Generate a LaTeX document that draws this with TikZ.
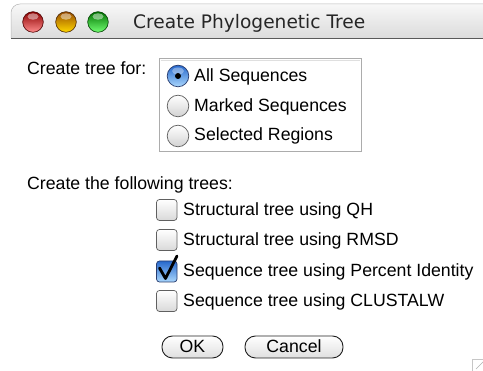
\documentclass[tikz,border=0pt]{standalone}
\usepackage{fontspec}
\setmainfont{Liberation Sans}
\newfontfamily\titlefont{DejaVu Sans}
\definecolor{aquatop}{RGB}{38,104,205}
\definecolor{aquabot}{RGB}{170,215,252}
\definecolor{aquaedge}{RGB}{40,60,110}
\begin{document}
\begin{tikzpicture}[x=1pt,y=-1pt,
  lbl/.style={anchor=base west,inner sep=0pt,font=\fontsize{17.7}{20}\selectfont,text=black},
  btntext/.style={anchor=base,inner sep=0pt,font=\fontsize{17.7}{20}\selectfont,text=black},
  radiooff/.style={top color=white,bottom color=gray!35,draw=gray!75!black,line width=0.7pt},
  radioon/.style={top color=aquatop,bottom color=aquabot,draw=aquaedge,line width=0.7pt},
  boxoff/.style={top color=white,bottom color=gray!30,draw=gray!75!black,line width=0.7pt,rounded corners=3pt},
  boxon/.style={top color=aquatop,bottom color=aquabot,draw=aquaedge,line width=0.7pt,rounded corners=3pt},
  button/.style={top color=white,bottom color=gray!25,draw=gray!25!black,line width=0.9pt,rounded corners=10.5pt}
]
\useasboundingbox (0,0) rectangle (483,371);
\fill[white] (0,0) rectangle (483,371);
% title bar
\shade[top color=gray!6,bottom color=gray!28] (11,38) -- (11,13) to[out=90,in=180] (20,4) -- (483,4) -- (483,38) -- cycle;
\draw[gray!70!black,line width=1pt] (11,38.5) -- (483,38.5);
\draw[gray!55,line width=0.5pt] (11,38) -- (11,13) to[out=90,in=180] (20,4) -- (483,4);
% traffic lights
\shade[top color=red!55!black,bottom color=red!45!white,draw=red!30!black,line width=0.6pt] (33,22) circle (10.3);
\fill[white,opacity=0.45] (33,16.5) ellipse (5.5 and 3.2);
\shade[top color=orange!60!black,bottom color=yellow!70!orange,draw=orange!30!black,line width=0.6pt] (66,22) circle (10.3);
\fill[white,opacity=0.45] (66,16.5) ellipse (5.5 and 3.2);
\shade[top color=green!45!black,bottom color=green!55!white,draw=green!25!black,line width=0.6pt] (98,22) circle (10.3);
\fill[white,opacity=0.45] (98,16.5) ellipse (5.5 and 3.2);
\node[anchor=base west,inner sep=0pt,font=\titlefont\fontsize{18.6}{20}\selectfont,text=black!85] (title) at (133,28.5) {Create Phylogenetic Tree};
% create tree for
\node[lbl] (createfor) at (27,75) {Create tree for:};
\draw[gray!65,line width=1pt] (159,59) rectangle (361,152);
\draw[gray!25,line width=0.6pt] (160.5,60.5) -- (359.5,60.5);
% radios
\shade[radioon] (178,76) circle (10.8);
\fill[white,opacity=0.35] (178,71) ellipse (6 and 3.5);
\fill[black] (178,76) circle (3);
\node[lbl] (all) at (194,81.5) {All Sequences};
\shade[radiooff] (178,106) circle (10.8);
\node[lbl] (marked) at (194,111.5) {Marked Sequences};
\shade[radiooff] (178,136) circle (10.8);
\node[lbl] (selected) at (194,141) {Selected Regions};
% following trees
\node[lbl] (following) at (27,190) {Create the following trees:};
\shade[boxoff] (156.5,199.5) rectangle (177,220.5);
\node[lbl] (qh) at (183,215.5) {Structural tree using QH};
\shade[boxoff] (156.5,229.5) rectangle (177,250.5);
\node[lbl] (rmsd) at (183,245.5) {Structural tree using RMSD};
\shade[boxon] (156.5,261) rectangle (177,282);
\draw[black,line width=2.8pt,line cap=round,line join=round] (159.5,268) -- (165.5,278.5) -- (177,256);
\node[lbl] (pid) at (183,276.5) {Sequence tree using Percent Identity};
\shade[boxoff] (156.5,290.5) rectangle (177,311.5);
\node[lbl] (clustal) at (183,306.5) {Sequence tree using CLUSTALW};
% buttons
\shade[button] (162,336) rectangle (223,358);
\node[btntext] (ok) at (192.5,353) {OK};
\shade[button] (245,336) rectangle (343,358);
\node[btntext] (cancel) at (294,353) {Cancel};
% resize grip
\draw[gray!45,line width=0.6pt] (472,371) -- (472,359) -- (483,359);
\draw[gray!60,line width=0.7pt] (476,369) -- (483,362);
\end{tikzpicture}
\end{document}
